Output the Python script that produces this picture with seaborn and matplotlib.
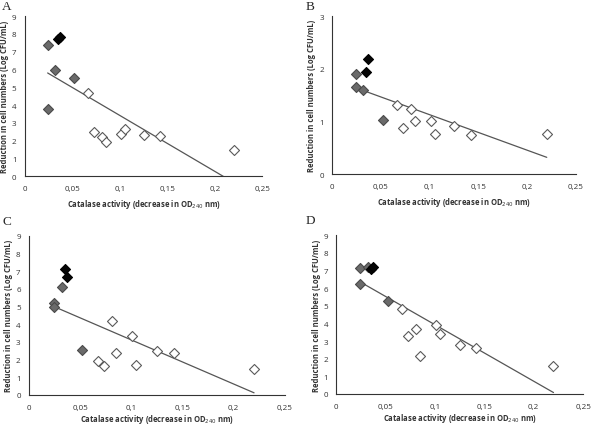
import matplotlib.pyplot as plt
import seaborn as sns
import pandas as pd
import numpy as np

sns.set_style("white")
plt.rcParams['font.family'] = ['Open Sans', 'DejaVu Sans']

# catalase activity of the isolates (same for every panel)
catalase = [0.024, 0.024, 0.032, 0.052,          # grey
            0.035, 0.037,                        # black
            0.067, 0.073, 0.081, 0.085, 0.101,   # white
            0.105, 0.125, 0.142, 0.220]
group = ["grey"] * 4 + ["black"] * 2 + ["white"] * 9

red_A = [7.4, 3.8, 5.95, 5.5, 7.7, 7.8, 4.65, 2.5, 2.2, 1.95, 2.4, 2.65, 2.3, 2.25, 1.5]
red_B = [1.9, 1.65, 1.6, 1.02, 1.93, 2.18, 1.32, 0.87, 1.24, 1.0, 1.0, 0.76, 0.92, 0.75, 0.77]
red_C = [5.2, 4.95, 6.1, 2.55, 7.15, 6.7, 1.9, 1.65, 4.2, 2.35, 3.35, 1.7, 2.5, 2.35, 1.45]
red_D = [7.15, 6.25, 7.2, 5.25, 7.1, 7.2, 4.8, 3.3, 3.7, 2.15, 3.9, 3.4, 2.75, 2.6, 1.6]

panels = ["A", "B", "C", "D"]
ymax = {"A": 9, "B": 3, "C": 9, "D": 9}
xticks = [0, 0.05, 0.1, 0.15, 0.2, 0.25]
xticklabels = ["0", "0,05", "0,1", "0,15", "0,2", "0,25"]

face = {"grey": "#6a6a6a", "black": "#050505", "white": "#ffffff"}
edge = {"grey": "#4a4a4a", "black": "#000000", "white": "#5a5a5a"}

# axes boxes in figure fractions
boxes = {"A": [0.042, 0.585, 0.401, 0.375],
         "B": [0.561, 0.590, 0.412, 0.370],
         "C": [0.049, 0.073, 0.432, 0.372],
         "D": [0.568, 0.075, 0.417, 0.372]}
letter_pos = {"A": (0.004, 0.997), "B": (0.516, 0.997), "C": (0.004, 0.495), "D": (0.516, 0.497)}
xlabel_pad = {"A": 3.5, "B": 3.5, "C": 1.0, "D": 1.0}

fig = plt.figure(figsize=(5.92, 4.27), dpi=100)

for p, vals in zip(panels, [red_A, red_B, red_C, red_D]):
    df = pd.DataFrame({"x": catalase, "y": vals, "g": group})
    ax = fig.add_axes(boxes[p])
    sns.regplot(data=df, x="x", y="y", ax=ax, scatter=False, ci=None, truncate=True,
                line_kws={"color": "#555555", "lw": 0.9})
    for g in ["grey", "white", "black"]:
        sub = df[df.g == g]
        sns.scatterplot(data=sub, x="x", y="y", ax=ax, marker="D", s=26,
                        color=face[g], edgecolor=edge[g], linewidth=0.8, zorder=3)
    ax.set_xlim(0, 0.25)
    ax.set_ylim(0, ymax[p])
    ax.set_xticks(xticks)
    ax.set_xticklabels(xticklabels)
    ax.set_yticks(range(0, ymax[p] + 1))
    ax.tick_params(axis="both", direction="out", length=2.5, width=0.8,
                   color="#333333", labelsize=5.8, labelcolor="#333333", pad=3.5)
    ax.tick_params(axis="x", pad=4)
    for s in ["top", "right"]:
        ax.spines[s].set_visible(False)
    for s in ["left", "bottom"]:
        ax.spines[s].set_color("#333333")
        ax.spines[s].set_linewidth(0.8)
    ax.set_xlabel("Catalase activity (decrease in OD$_{240}$ nm)", fontsize=5.5,
                  fontweight="bold", color="#333333", labelpad=xlabel_pad[p])
    ax.set_ylabel("Reduction in cell numbers (Log CFU/mL)", fontsize=5.5,
                  fontweight="bold", color="#333333", labelpad=2)
    fig.text(letter_pos[p][0], letter_pos[p][1], p, family="Liberation Serif",
             fontsize=9.5, va="top", ha="left")

fig.savefig("out.png", dpi=100)
